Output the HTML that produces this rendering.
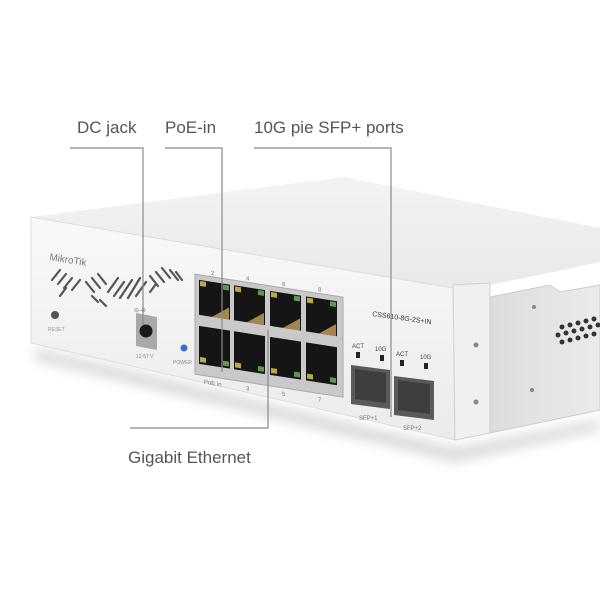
<!DOCTYPE html>
<html><head><meta charset="utf-8"><style>
html,body{margin:0;padding:0;background:#fff;}
svg{display:block;}
text{font-family:"Liberation Sans",sans-serif;}
</style></head><body>
<svg width="600" height="600" viewBox="0 0 600 600" xmlns="http://www.w3.org/2000/svg">
<defs>
<linearGradient id="top" x1="0" y1="0" x2="0" y2="1"><stop offset="0" stop-color="#f3f3f3"/><stop offset="1" stop-color="#e9e9e9"/></linearGradient>
<linearGradient id="front" x1="0" y1="0" x2="0" y2="1"><stop offset="0" stop-color="#f9f9f9"/><stop offset="1" stop-color="#ebebeb"/></linearGradient>
<linearGradient id="side" x1="0" y1="0" x2="1" y2="0"><stop offset="0" stop-color="#dcdcdc"/><stop offset="1" stop-color="#ebebeb"/></linearGradient>
<filter id="blur"><feGaussianBlur stdDeviation="6"/></filter>
</defs>
<polygon points="35,348 455,448 600,420 600,430 455,462 35,360" fill="#d8d8d8" filter="url(#blur)"/>
<polygon points="31,217 344,177 600,228 600,262 490,285 453,288" fill="url(#top)"/>
<polygon points="31,217 453,288 455,440 31,343" fill="url(#front)" stroke="#dddddd" stroke-width="1"/>
<polygon points="453,285 490,283 490,433 455,440" fill="#f0f0f0" stroke="#d0d0d0"/>
<circle cx="476" cy="345" r="2.5" fill="#888"/><circle cx="476" cy="402" r="2.5" fill="#888"/>
<polygon points="490,297 550,285 560,292 600,285 600,410 490,433" fill="url(#side)" stroke="#cccccc"/>
<circle cx="534" cy="307" r="2" fill="#888"/><circle cx="532" cy="390" r="2" fill="#888"/>
<g fill="#333">
<circle cx="558" cy="335" r="2.5"/><circle cx="566" cy="333" r="2.5"/><circle cx="574" cy="331" r="2.5"/><circle cx="582" cy="329" r="2.5"/><circle cx="590" cy="327" r="2.5"/><circle cx="598" cy="325" r="2.5"/>
<circle cx="562" cy="327" r="2.5"/><circle cx="570" cy="325" r="2.5"/><circle cx="578" cy="323" r="2.5"/><circle cx="586" cy="321" r="2.5"/><circle cx="594" cy="319" r="2.5"/>
<circle cx="562" cy="342" r="2.5"/><circle cx="570" cy="340" r="2.5"/><circle cx="578" cy="338" r="2.5"/><circle cx="586" cy="336" r="2.5"/><circle cx="594" cy="334" r="2.5"/>
</g>
<text x="49" y="260" font-size="10" fill="#777" transform="rotate(9 49 260)">MikroTik</text>
<g stroke="#555" stroke-width="2.2" stroke-linecap="round">
<path d="M52,280 l8,-10 M58,284 l8,-10 M64,288 l8,-10 M72,290 l8,-10"/>
<path d="M86,282 l8,10 M92,278 l8,10 M98,274 l8,10"/>
<path d="M108,292 l10,-14 M114,296 l10,-14 M120,298 l12,-18 M128,298 l12,-20 M136,296 l10,-14"/>
<path d="M150,276 l8,10 M156,272 l8,10 M162,268 l8,10 M170,270 l8,10 M176,272 l6,8"/>
<path d="M60,296 l6,-8 M92,296 l6,6 M100,300 l6,6 M150,292 l6,-8"/>
</g>
<circle cx="55" cy="315" r="4" fill="#555"/>
<text x="48" y="331" font-size="5" fill="#999">RESET</text>
<text x="134" y="312" font-size="6" fill="#777">⊖-⊕</text>
<polygon points="136,313 157,317 157,350 136,346" fill="#a9a9a9"/>
<circle cx="146" cy="331" r="6.5" fill="#1a1a1a"/>
<text x="136" y="358" font-size="5" fill="#888">12-57 V</text>
<circle cx="184" cy="348" r="3.5" fill="#3a6fd0"/>
<text x="173" y="364" font-size="5" fill="#888">POWER</text>
<g transform="matrix(1,0.155,0,1,0,0)">
<rect x="195" y="244" width="148" height="100" fill="#c9c9c9" stroke="#a8a8a8"/>
<g fill="#151515">
<rect x="199" y="249" width="31" height="35"/><rect x="234" y="249" width="31" height="35"/><rect x="270" y="249" width="31" height="35"/><rect x="306" y="249" width="31" height="35"/>
<rect x="199" y="295" width="31" height="38"/><rect x="234" y="295" width="31" height="38"/><rect x="270" y="295" width="31" height="38"/><rect x="306" y="295" width="31" height="38"/>
</g>
<g fill="#a5864f">
<polygon points="212,284 229,272 229,284"/><polygon points="247,284 264,272 264,284"/><polygon points="283,284 300,272 300,284"/><polygon points="319,284 336,272 336,284"/>
</g>
<g fill="#b8a84a"><rect x="200" y="250" width="6" height="5"/><rect x="235" y="250" width="6" height="5"/><rect x="271" y="250" width="6" height="5"/><rect x="307" y="250" width="6" height="5"/>
<rect x="200" y="326" width="6" height="5"/><rect x="235" y="326" width="6" height="5"/><rect x="271" y="326" width="6" height="5"/><rect x="307" y="326" width="6" height="5"/></g>
<g fill="#5c9a4e"><rect x="223" y="250" width="6" height="5"/><rect x="258" y="250" width="6" height="5"/><rect x="294" y="250" width="6" height="5"/><rect x="330" y="250" width="6" height="5"/>
<rect x="223" y="326" width="6" height="5"/><rect x="258" y="326" width="6" height="5"/><rect x="294" y="326" width="6" height="5"/><rect x="330" y="326" width="6" height="5"/></g>
<g font-size="6" fill="#777">
<text x="211" y="242">2</text><text x="246" y="242">4</text><text x="282" y="242">6</text><text x="318" y="242">8</text>
<text x="204" y="352">PoE in</text><text x="246" y="352">3</text><text x="282" y="352">5</text><text x="318" y="352">7</text>
</g>
</g>
<text x="372" y="316" font-size="7" fill="#333" transform="rotate(8 372 316)">CSS610-8G-2S+IN</text>
<g font-size="6" fill="#444">
<text x="352" y="348">ACT</text><text x="375" y="351">10G</text>
<text x="396" y="356">ACT</text><text x="420" y="359">10G</text>
</g>
<rect x="356" y="352" width="4" height="6" fill="#222"/><rect x="380" y="355" width="4" height="6" fill="#222"/>
<rect x="400" y="360" width="4" height="6" fill="#222"/><rect x="424" y="363" width="4" height="6" fill="#222"/>
<polygon points="351,365 390,370 390,409 351,404" fill="#5a5a5a"/>
<polygon points="355,369 386,373 386,403 355,399" fill="#3e3e3e"/>
<polygon points="394,376 434,381 434,420 394,415" fill="#5a5a5a"/>
<polygon points="398,380 430,384 430,414 398,410" fill="#3e3e3e"/>
<text x="359" y="420" font-size="6" fill="#777">SFP+1</text>
<text x="403" y="430" font-size="6" fill="#777">SFP+2</text>
<g stroke="#8a8a8a" stroke-width="1.2" fill="none">
<path d="M70,148 H143 V325"/>
<path d="M165,148 H222 V372"/>
<path d="M254,148 H391 V417"/>
<path d="M130,428 H268 V330"/>
</g>
<g font-size="17" fill="#555">
<text x="77" y="133">DC jack</text>
<text x="165" y="133">PoE-in</text>
<text x="254" y="133">10G pie SFP+ ports</text>
<text x="128" y="463">Gigabit Ethernet</text>
</g>
</svg>
</body></html>
